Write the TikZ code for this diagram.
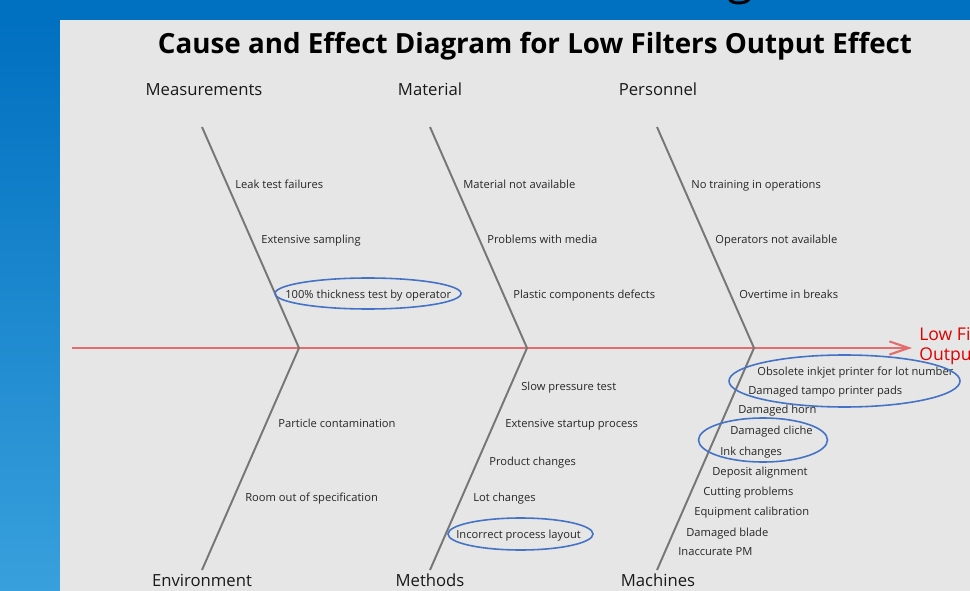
\documentclass[tikz,border=0pt]{standalone}
\usepackage{fontspec}
\setmainfont{Open Sans}
\usepackage{xcolor}
\usetikzlibrary{arrows.meta, positioning}
\definecolor{slideblue}{RGB}{0,112,192}
\definecolor{slidelight}{RGB}{56,160,220}
\definecolor{panelgray}{RGB}{230,230,230}
\definecolor{bonegray}{RGB}{118,118,118}
\definecolor{spinered}{RGB}{228,108,108}
\definecolor{effectred}{RGB}{224,0,0}
\definecolor{ringblue}{RGB}{68,114,196}

\begin{document}
\begin{tikzpicture}[x=0.02cm, y=-0.02cm,
    every node/.style={inner sep=0pt},
    cause/.style={anchor=west, text=black!85, font=\fontsize{6.35}{7.5}\selectfont, text height=0.75em, text depth=0.25em},
    group/.style={text=black!90, font=\fontsize{9.5}{11}\selectfont, text height=0.75em, text depth=0.25em},
    bone/.style={draw=bonegray, line width=1.1pt},
    ring/.style={draw=ringblue, line width=0.9pt}]
    \useasboundingbox (0,0) rectangle (970,591);
    \clip (0,0) rectangle (970,591);
    % slide frame and panel
    \fill[slideblue] (0,0) rectangle (970,591);
    \shade[top color=slideblue, bottom color=slidelight] (0,20) rectangle (60,591);
    \fill[panelgray] (60,20) rectangle (970,591);
    \begin{scope}
        \clip (60,0) rectangle (970,20);
        \node[anchor=base, font=\fontsize{27}{27}\selectfont] (slideg) at (740,-6) {g};
    \end{scope}

    \node[font=\fontsize{15.8}{19}\selectfont\bfseries] (title) at (535,46) {Cause and Effect Diagram for Low Filters Output Effect};

    % spine and bones
    \coordinate (tail) at (72,348);
    \coordinate (head) at (912,348);
    \coordinate (j1) at (299,348);
    \coordinate (j2) at (527,348);
    \coordinate (j3) at (754,348);
    \coordinate (t1) at (202,127);
    \coordinate (t2) at (430,127);
    \coordinate (t3) at (657,127);
    \coordinate (b1) at (202,570);
    \coordinate (b2) at (430,570);
    \coordinate (b3) at (657,570);
    \draw[spinered, line width=1.2pt, -{Straight Barb[length=11pt, width=7.5pt]}] (tail) -- (head);
    \draw[bone] (t1) -- (j1) -- (b1);
    \draw[bone] (t2) -- (j2) -- (b2);
    \draw[bone] (t3) -- (j3) -- (b3);
    \node[anchor=west, align=left, text=effectred, font=\fontsize{10}{11}\selectfont] (effect) at (919,346) {Low Filters\\Output Effect};

    % group names
    \node[group] (meas) at (204,91) {Measurements};
    \node[group] (matl) at (430,91) {Material};
    \node[group] (pers) at (658,91) {Personnel};
    \node[group] (envi) at (202,582) {Environment};
    \node[group] (meth) at (430,582) {Methods};
    \node[group] (mach) at (658,582) {Machines};

    % causes, upper side
    \node[cause] (leak) at (235,184) {Leak test failures};
    \node[cause] (sampling) at (261,239) {Extensive sampling};
    \node[cause] (thick) at (285,294) {100\% thickness test by operator};
    \node[cause] (notavail) at (463,184) {Material not available};
    \node[cause] (media) at (487,239) {Problems with media};
    \node[cause] (plastic) at (513,294) {Plastic components defects};
    \node[cause] (training) at (691,184) {No training in operations};
    \node[cause] (operators) at (715,239) {Operators not available};
    \node[cause] (overtime) at (739,294) {Overtime in breaks};

    % causes, lower side
    \node[cause] (particle) at (278,423) {Particle contamination};
    \node[cause] (room) at (245,497) {Room out of specification};
    \node[cause] (pressure) at (521,386) {Slow pressure test};
    \node[cause] (startup) at (505,423) {Extensive startup process};
    \node[cause] (product) at (489,461) {Product changes};
    \node[cause] (lot) at (473,497) {Lot changes};
    \node[cause] (layout) at (456,534) {Incorrect process layout};
    \node[cause] (inkjet) at (757,371) {Obsolete inkjet printer for lot number};
    \node[cause] (tampo) at (748,390) {Damaged tampo printer pads};
    \node[cause] (horn) at (738,409) {Damaged horn};
    \node[cause] (cliche) at (730,430) {Damaged cliche};
    \node[cause] (ink) at (720,451) {Ink changes};
    \node[cause] (deposit) at (712,471) {Deposit alignment};
    \node[cause] (cutting) at (703,491) {Cutting problems};
    \node[cause] (calib) at (694,511) {Equipment calibration};
    \node[cause] (blade) at (686,532) {Damaged blade};
    \node[cause] (pm) at (678,551) {Inaccurate PM};

    % highlighted causes
    \draw[ring] (368,293.5) ellipse [x radius=93, y radius=15.5];
    \draw[ring] (520.5,534) ellipse [x radius=72.5, y radius=16];
    \draw[ring] (844.5,381) ellipse [x radius=115.5, y radius=26];
    \draw[ring] (763,440) ellipse [x radius=64.5, y radius=22];
\end{tikzpicture}
\end{document}
